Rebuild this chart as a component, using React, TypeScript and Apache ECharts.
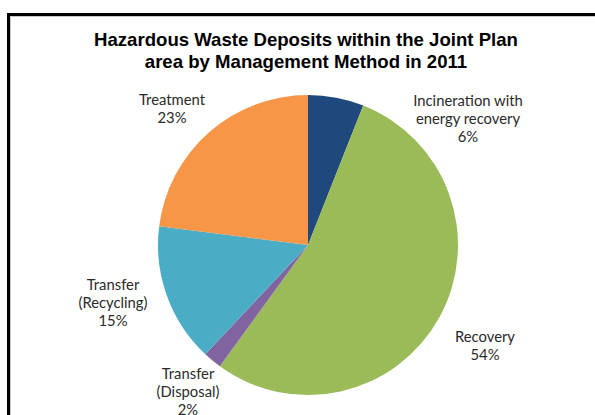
import React, { useEffect, useRef } from "react";
import * as echarts from "echarts";

const categories = [
  "Incineration with\nenergy recovery",
  "Recovery",
  "Transfer\n(Disposal)",
  "Transfer\n(Recycling)",
  "Treatment",
];
const values = [6, 54, 2, 15, 23];
const colors = ["#1F497D", "#9BBB59", "#8064A2", "#4BACC6", "#F79646"];
// label centres (layout only)
const labelPositions = [
  [468, 118],
  [485, 345],
  [188, 391],
  [113, 302],
  [172, 108],
];

export default function App() {
  const ref = useRef<HTMLDivElement>(null);
  useEffect(() => {
    if (!ref.current) return;
    const chart = echarts.init(ref.current, null, { renderer: "svg" });
    chart.setOption({
      animation: false,
      backgroundColor: "#ffffff",
      graphic: [
        {
          type: "rect",
          shape: { x: 8.5, y: 14.5, width: 620, height: 440 },
          style: { fill: "none", stroke: "#000000", lineWidth: 3 },
          silent: true,
        },
        {
          type: "rect",
          shape: { x: 10.5, y: 16.5, width: 620, height: 440 },
          style: { fill: "none", stroke: "#c8c8c8", lineWidth: 1 },
          silent: true,
        },
        {
          type: "text",
          x: 306,
          y: 29,
          style: {
            text: "Hazardous Waste Deposits within the Joint Plan\narea by Management Method in 2011",
            align: "center",
            verticalAlign: "top",
            fontSize: 18.6,
            fontWeight: "bold",
            fontFamily: "Liberation Sans, Arial, sans-serif",
            lineHeight: 21.5,
            fill: "#000000",
          },
        },
      ],
      series: [
        {
          type: "pie",
          center: [308, 245],
          radius: 150,
          startAngle: 90,
          clockwise: true,
          data: categories.map((name, i) => ({
            name,
            value: values[i],
            itemStyle: { color: colors[i] },
          })),
          label: {
            show: true,
            position: "outside",
            formatter: (p: any) => `${p.name}\n${p.value}%`,
            fontSize: 14.8,
            lineHeight: 18,
            fontFamily: "Lato, sans-serif",
            color: "#2a2a2a",
            align: "center",
          },
          labelLine: { show: false },
          labelLayout: (params: any) => {
            const pos = labelPositions[params.dataIndex];
            return {
              x: pos[0],
              y: pos[1],
              align: "center",
              verticalAlign: "middle",
            };
          },
          emphasis: { disabled: true },
        },
      ],
    });
    return () => chart.dispose();
  }, []);
  return (
    <div
      ref={ref}
      style={{ position: "absolute", left: 0, top: 0, width: 595, height: 415 }}
    />
  );
}
